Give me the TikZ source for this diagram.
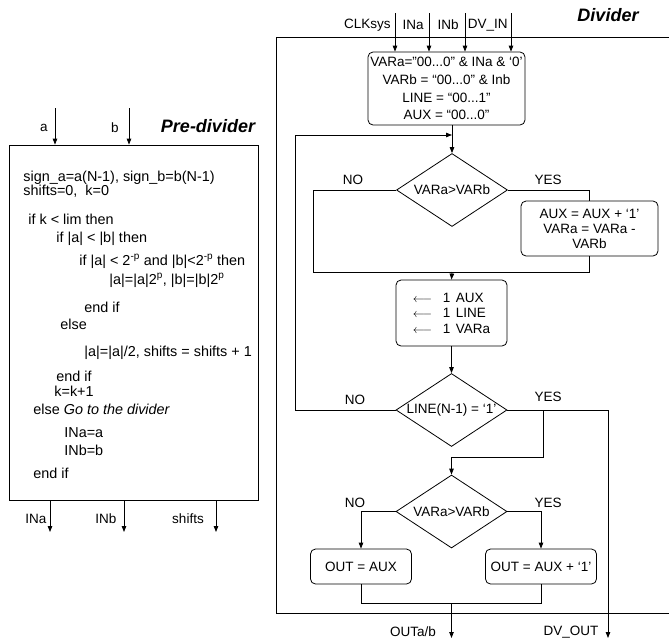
\documentclass[tikz,border=0pt]{standalone}
\usepackage{fontspec}
\setmainfont{Liberation Sans}
\usetikzlibrary{arrows.meta,shapes.geometric}
\begin{document}
\begin{tikzpicture}[x=1pt,y=-1pt, line width=0.8pt,
  font=\fontsize{13.5}{16}\selectfont,
  arr/.style={-{Triangle[length=6pt,width=4.5pt]}},
  rbox/.style={draw, rounded corners=5pt, align=center, inner sep=0pt},
  dia/.style={draw, diamond, inner sep=0pt, minimum width=111pt, minimum height=73pt},
  txt/.style={anchor=base west, inner sep=0pt, font=\fontsize{14.4}{16}\selectfont},
  lbl/.style={inner sep=0pt},
  ttl/.style={font=\fontsize{18}{20}\selectfont\bfseries\itshape, inner sep=0pt}]
\useasboundingbox (0,0) rectangle (669,643);

% ---------------- Pre-divider ----------------
\node[draw, minimum width=249pt, minimum height=355pt, inner sep=0pt] (pre) at (133.5,322.5) {};
\node[ttl] (tpre) at (208,126) {Pre-divider};
\coordinate (ia) at (55,108);
\coordinate (ib) at (129,108);
\draw[arr] (ia) -- (ia |- pre.north);
\draw[arr] (ib) -- (ib |- pre.north);
\node[lbl] (la) at (44,128) {a};
\node[lbl] (lb) at (115,128) {b};

\node[txt] (p1) at (23,181) {sign\_a=a(N-1), sign\_b=b(N-1)};
\node[txt] (p2) at (23,195) {shifts=0,\ \ k=0};
\node[txt] (p3) at (28,224) {if k < lim then};
\node[txt] (p4) at (56,242) {if |a| < |b| then};
\node[txt] (p5) at (79,265) {if |a| < 2\textsuperscript{-p} and |b|<2\textsuperscript{-p} then};
\node[txt] (p6) at (109,284) {|a|=|a|2\textsuperscript{p}, |b|=|b|2\textsuperscript{p}};
\node[txt] (p7) at (84,312) {end if};
\node[txt] (p8) at (60,329) {else};
\node[txt] (p9) at (84,356) {|a|=|a|/2, shifts = shifts + 1};
\node[txt] (p10) at (56,381) {end if};
\node[txt] (p11) at (54,396) {k=k+1};
\node[txt] (p12) at (33,414) {else \textit{Go to the divider}};
\node[txt] (p13) at (64,437) {INa=a};
\node[txt] (p14) at (64,455) {INb=b};
\node[txt] (p15) at (33,478) {end if};

\coordinate (oa) at (50,532);
\coordinate (ob) at (124,532);
\coordinate (os) at (216,532);
\draw[arr] (pre.south -| oa) -- (oa);
\draw[arr] (pre.south -| ob) -- (ob);
\draw[arr] (pre.south -| os) -- (os);
\node[lbl] (loa) at (36,519) {INa};
\node[lbl] (lob) at (106,519) {INb};
\node[lbl] (los) at (188,519) {shifts};

% ---------------- Divider ----------------
\draw (669,37) -- (276,37) -- (276,613) -- (669,613);
\node[ttl] (tdiv) at (608,15) {Divider};

\node[rbox, minimum width=157pt, minimum height=73pt, font=\fontsize{13.5}{17.7}\selectfont] (init) at (446.5,88.5)
  {VARa="00...0" \& INa \& ‘0’\\VARb = “00...0” \& Inb\\LINE = “00...1”\\AUX = “00...0”};

\coordinate (c1) at (395,13);
\coordinate (c2) at (429,13);
\coordinate (c3) at (465,13);
\coordinate (c4) at (511,13);
\draw[arr] (c1) -- (c1 |- init.north);
\draw[arr] (c2) -- (c2 |- init.north);
\draw[arr] (c3) -- (c3 |- init.north);
\draw[arr] (c4) -- (c4 |- init.north);
\node[lbl, anchor=east] (lc1) at (391,25) {CLKsys};
\node[lbl, anchor=east] (lc2) at (424,25) {INa};
\node[lbl, anchor=east] (lc3) at (459,25) {INb};
\node[lbl, anchor=east] (lc4) at (508,25) {DV\_IN};

% first comparison
\node[dia] (d1) at (452,190) {};
\node[lbl] (t1) at (d1) {VARa>VARb};
\draw[arr] (init.south -| d1.north) -- (d1.north);
\node[lbl] (no1) at (353,180) {NO};
\node[lbl] (yes1) at (548,180) {YES};

\node[rbox, minimum width=137pt, minimum height=55pt, font=\fontsize{13.5}{15}\selectfont] (aux) at (589.5,228.5)
  {AUX = AUX + ‘1’\\VARa = VARa -\\VARb};
\draw (d1.east) -| (aux.north);
\coordinate (nl) at (313,272);
\coordinate (m1) at (452,272);
\draw (d1.west) -| (nl) -- (nl -| aux.south) -- (aux.south);

% shift box
\node[rbox, minimum width=111pt, minimum height=66pt, align=left, font=\fontsize{13.5}{15.5}\selectfont] (sh) at (451.5,313)
  {\makebox[30pt][l]{\fontsize{12.5}{12.5}\selectfont$\longleftarrow$}\makebox[13pt][l]{1}AUX\\
   \makebox[30pt][l]{\fontsize{12.5}{12.5}\selectfont$\longleftarrow$}\makebox[13pt][l]{1}LINE\\
   \makebox[30pt][l]{\fontsize{12.5}{12.5}\selectfont$\longleftarrow$}\makebox[13pt][l]{1}VARa};
\draw[arr] (m1) -- (sh.north);

% second comparison
\node[dia] (d2) at (451.5,410) {};
\node[lbl] (t2) at (d2) {LINE(N-1) = ‘1’};
\draw[arr] (sh.south) -- (d2.north);
\node[lbl] (no2) at (355,400) {NO};
\node[lbl] (yes2) at (548,397) {YES};
\coordinate (lp) at (295,135);
\draw[arr] (d2.west) -| (lp) -- (lp -| d1.north);
\coordinate (dvo) at (608,638);
\draw[arr] (d2.east) -| (dvo);
\node[lbl] (ldvo) at (571,632) {DV\_OUT};
\coordinate (br) at (543,410);
\coordinate (br2) at (451.5,457);

% third comparison
\node[dia] (d3) at (451.5,511.5) {};
\node[lbl] (t3) at (d3) {VARa>VARb};
\draw[arr] (br) |- (br2) -- (d3.north);
\node[lbl] (no3) at (355,503) {NO};
\node[lbl] (yes3) at (548,503) {YES};

\node[rbox, minimum width=101pt, minimum height=35pt] (o1) at (361,566.5) {OUT = AUX};
\node[rbox, minimum width=111pt, minimum height=35pt] (o2) at (541,566.5) {OUT = AUX + ‘1’};
\draw[arr] (d3.west) -| (o1.north);
\draw[arr] (d3.east) -| (o2.north);
\coordinate (mo) at (451.5,603);
\coordinate (outab) at (451.5,638);
\draw (o1.south) |- (mo) -| (o2.south);
\draw[arr] (mo) -- (outab);
\node[lbl] (lout) at (413,632) {OUTa/b};
\end{tikzpicture}
\end{document}
